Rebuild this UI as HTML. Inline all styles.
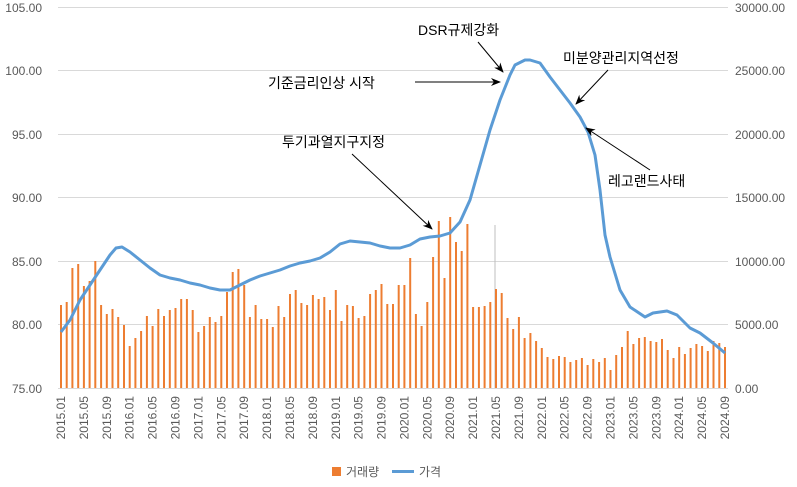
<!DOCTYPE html>
<html><head><meta charset="utf-8"><style>
body{margin:0;background:#fff;}
svg text{font-family:"Liberation Sans","Noto Sans CJK KR",sans-serif;}
</style></head><body>
<svg width="797" height="482" xmlns="http://www.w3.org/2000/svg">
<defs><marker id="ah" markerWidth="10" markerHeight="8" refX="9" refY="4" orient="auto" markerUnits="userSpaceOnUse"><path d="M0,0 L10,4 L0,8 L3,4 z" fill="#000"/></marker></defs>
<g stroke="#d9d9d9" stroke-width="1">
<line x1="58" x2="728" y1="7.5" y2="7.5"/><line x1="58" x2="728" y1="70.5" y2="70.5"/><line x1="58" x2="728" y1="134.5" y2="134.5"/><line x1="58" x2="728" y1="197.5" y2="197.5"/><line x1="58" x2="728" y1="261.5" y2="261.5"/><line x1="58" x2="728" y1="324.5" y2="324.5"/><line x1="58" x2="728" y1="388.5" y2="388.5"/>
</g>
<g font-size="12" fill="#595959" text-anchor="end">
<text x="42" y="12">105.00</text><text x="42" y="75">100.00</text><text x="42" y="139">95.00</text><text x="42" y="202">90.00</text><text x="42" y="266">85.00</text><text x="42" y="329">80.00</text><text x="42" y="393">75.00</text>
</g>
<g font-size="12" fill="#595959" text-anchor="start">
<text x="735" y="12">30000.00</text><text x="735" y="75">25000.00</text><text x="735" y="139">20000.00</text><text x="735" y="202">15000.00</text><text x="735" y="266">10000.00</text><text x="735" y="329">5000.00</text><text x="735" y="393">0.00</text>
</g>
<line x1="495" y1="225" x2="495" y2="388" stroke="#bfbfbf" stroke-width="1"/>
<g id="bars" fill="#ED7D31"></g>
<polyline fill="none" stroke="#5B9BD5" stroke-width="3" stroke-linejoin="round" points="61,332 70,320 80,300 90,285 100,270 110,255 116,248 122,247 130,252 140,260 150,268 160,275 170,278 180,280 190,283 200,285 210,288 220,290 230,290 240,285 250,280 260,276 270,273 280,270 290,266 300,263 310,261 320,258 330,252 340,244 350,241 360,242 370,243 380,246 390,248 400,248 410,245 420,239 430,237 440,236 450,233 460,222 470,200 480,165 490,130 500,100 510,75 515,65 525,60 530,60 540,63 545,70 550,77 560,90 570,103 580,117 588,132 595,155 600,190 605,235 610,257 620,290 630,307 645,317 653,313 667,311 677,315 690,328 700,333 713,343 725,353"/>
<g id="xl" font-size="12" fill="#595959"></g>
<g font-size="14" fill="#000">
<text x="418" y="35">DSR규제강화</text>
<text x="268" y="88">기준금리인상 시작</text>
<text x="563" y="63">미분양관리지역선정</text>
<text x="282" y="147">투기과열지구지정</text>
<text x="608" y="186">레고랜드사태</text>
</g>
<g stroke="#000" stroke-width="1" marker-end="url(#ah)">
<line x1="478" y1="42" x2="503" y2="72"/>
<line x1="415" y1="82" x2="500" y2="82"/>
<line x1="608" y1="70" x2="576" y2="104"/>
<line x1="352" y1="154" x2="432" y2="229"/>
<line x1="650" y1="170" x2="586" y2="128"/>
</g>
<rect x="332" y="467" width="9" height="9" fill="#ED7D31"/>
<text x="346" y="476" font-size="12" fill="#595959">거래량</text>
<line x1="392" y1="471.5" x2="414" y2="471.5" stroke="#5B9BD5" stroke-width="3"/>
<text x="419" y="476" font-size="12" fill="#595959">가격</text>
</svg>
<script>
var NS="http://www.w3.org/2000/svg";
var t=[305,302,268,264,286,281,261,305,314,309,317,325,346,338,331,316,326,309,316,310,308,299,299,310,332,326,317,322,316,292,272,269,285,317,305,319,319,327,306,317,294,290,303,305,295,299,297,310,290,321,305,306,318,316,294,290,284,304,304,285,285,258,314,326,302,257,221,278,217,242,251,224,307,307,306,302,289,293,318,329,317,338,333,341,348,357,359,356,357,362,360,358,365,359,362,358,370,355,347,331,344,338,337,341,342,339,350,358,347,354,348,344,346,351,341,343,347];
var g=document.getElementById('bars');
for(var i=0;i<t.length;i++){var x=61+i*5.724;var r=document.createElementNS(NS,'rect');r.setAttribute('x',(x-1).toFixed(1));r.setAttribute('y',t[i]);r.setAttribute('width','2');r.setAttribute('height',388-t[i]);g.appendChild(r);}
var xl=document.getElementById('xl');
for(var i=0;i<117;i+=4){var y=2015+Math.floor(i/12),m=i%12+1;var x=61+i*5.724+4;var e=document.createElementNS(NS,'text');e.setAttribute('transform','translate('+x.toFixed(1)+',396) rotate(-90)');e.setAttribute('text-anchor','end');e.textContent=y+'.'+(m<10?'0':'')+m;xl.appendChild(e);}
</script>
</body></html>
